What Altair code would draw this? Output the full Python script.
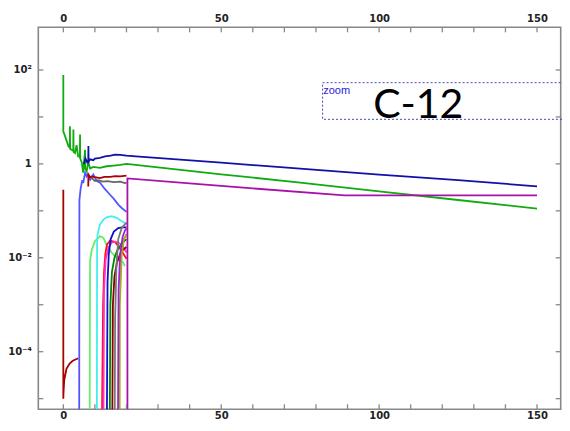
import altair as alt
import pandas as pd

# ---------------- axis ticks / labels ----------------
X_TICKS = [0, 10, 20, 30, 40, 50, 60, 70, 80, 90, 100, 110, 120, 130, 140, 150]
X_LABELS = [0, 50, 100, 150]
Y_TICKS = [1e-5, 1e-4, 1e-3, 1e-2, 1e-1, 1, 10, 100]
Y_LABELS = [100, 1, 0.01, 0.0001]

# ---------------- series (x, y) ----------------
LGREEN_X = [8.3, 8.4, 8.47, 9.0, 10.0, 11.6, 12.7, 13.7, 15.3, 17.0, 19.0, 19.5]
LGREEN_Y = [1e-7, 1e-4, 0.0085, 0.0149, 0.0224, 0.0288, 0.0264, 0.019, 0.0129, 0.0098, 0.0079, 0.0066]

CYAN_X = [10.6, 10.7, 10.8, 11.1, 11.6, 12.7, 13.7, 15.3, 16.9, 18.5, 20.0]
CYAN_Y = [1e-7, 0.019, 0.03, 0.037, 0.051, 0.065, 0.073, 0.077, 0.071, 0.06, 0.053]

RED_X = [12.0, 12.6, 12.9, 13.3, 13.8, 14.8, 16.3, 17.3, 18.5, 20.0]
RED_Y = [1e-7, 1e-3, 0.005, 0.012, 0.019, 0.023, 0.022, 0.018, 0.014, 0.0095]

PINK_X = [12.6, 12.9, 13.4, 14.2, 15.3, 16.5, 18.0, 19.2, 20.0]
PINK_Y = [1e-7, 0.002, 0.009, 0.016, 0.021, 0.022, 0.02, 0.016, 0.013]

BLUE2_X = [13.7, 14.0, 14.4, 15.0, 16.0, 17.4, 19.0, 20.0]
BLUE2_Y = [1e-7, 0.003, 0.012, 0.025, 0.036, 0.043, 0.045, 0.044]

DGREEN_X = [14.6, 14.9, 15.4, 16.2, 17.2, 18.5, 20.0]
DGREEN_Y = [1e-7, 1e-3, 0.005, 0.01, 0.015, 0.02, 0.025]

DRED2_X = [15.4, 15.7, 16.2, 17.0, 18.0, 19.0, 20.0]
DRED2_Y = [1e-7, 1e-3, 0.004, 0.008, 0.012, 0.015, 0.017]

GRAY2_X = [16.2, 16.4, 16.8, 17.4, 18.5, 20.0]
GRAY2_Y = [1e-7, 5e-4, 0.006, 0.025, 0.043, 0.056]

OLIVE_X = [17.8, 17.9, 18.5, 19.2, 20.0]
OLIVE_Y = [1e-7, 1e-3, 0.012, 0.025, 0.032]

PURPLE_X = [17.2, 17.5, 18.0, 18.8, 19.5, 20.0]
PURPLE_Y = [1e-7, 2e-3, 0.012, 0.028, 0.038, 0.042]

DREDLOW_X = [0.0, 0.0, 0.05, 0.3, 1.0, 2.0, 3.0, 4.2, 4.7]
DREDLOW_Y = [0.28, 1.0e-5, 1.3e-5, 2.5e-5, 4.3e-5, 5.6e-5, 6.4e-5, 7.0e-5, 7.2e-5]

PERI_X = [5.0, 5.1, 5.5, 6.0, 6.3, 6.9, 7.4, 7.8, 8.5, 9.5, 10.6, 11.6, 13.0, 14.8, 16.0, 17.4, 18.5, 20.0]
PERI_Y = [1e-7, 0.17, 0.3, 0.45, 0.39, 0.65, 0.54, 0.6, 0.46, 0.59, 0.43, 0.4, 0.3, 0.22, 0.18, 0.136, 0.115, 0.095]

GRAY_X = [9.0, 10.0, 11.0, 12.5, 14.0, 16.0, 18.0, 19.5, 20.0]
GRAY_Y = [0.5, 0.43, 0.45, 0.42, 0.43, 0.41, 0.42, 0.39, 0.4]

DREDUP_X = [7.9, 7.95, 8.5, 9.0, 10.0, 11.6, 13.0, 14.8, 16.5, 18.0, 20.0]
DREDUP_Y = [0.33, 0.59, 0.52, 0.54, 0.52, 0.5, 0.53, 0.53, 0.55, 0.54, 0.56]

GREEN_X = [0.0, 0.0, 0.55, 1.6, 2.05, 2.1, 2.15, 2.6, 3.15, 3.2, 3.25, 3.7, 4.2, 4.7, 5.25, 5.3, 5.35,
           5.8, 6.3, 6.9, 6.95, 7.4, 7.9, 8.5, 9.5, 11.6, 13.7, 16.0, 18.0, 20.0,
           30.0, 50.0, 75.0, 100.0, 125.0, 150.0]
GREEN_Y = [78.0, 4.9, 3.9, 2.4, 2.2, 6.3, 2.1, 2.0, 1.9, 5.4, 1.8, 1.7, 2.5, 1.45, 1.4, 4.2, 1.3,
           1.1, 0.65, 2.0, 0.8, 0.7, 1.1, 0.8, 0.86, 0.82, 0.89, 0.92, 0.95, 1.0,
           0.845, 0.60, 0.40, 0.26, 0.17, 0.112]

BLUE_X = [6.5, 7.0, 7.5, 7.9, 7.95, 8.0, 8.5, 9.5, 10.0, 11.6, 13.2, 15.0, 16.4, 18.0, 20.0, 23.0,
          50.0, 75.0, 100.0, 125.0, 150.0]
BLUE_Y = [1.0, 1.3, 1.1, 1.2, 2.4, 1.1, 1.25, 1.2, 1.3, 1.35, 1.45, 1.5, 1.58, 1.55, 1.5, 1.45,
          1.06, 0.79, 0.59, 0.45, 0.333]

MAGENTA_X = [20.3, 20.3, 40.0, 60.0, 89.0, 120.0, 150.0]
MAGENTA_Y = [1e-7, 0.49, 0.385, 0.30, 0.214, 0.214, 0.214]

SERIES = [
    ("a_lgreen", "#66ee66", LGREEN_X, LGREEN_Y),
    ("b_cyan", "#44eeee", CYAN_X, CYAN_Y),
    ("c_red", "#ff1111", RED_X, RED_Y),
    ("d_pink", "#ff33cc", PINK_X, PINK_Y),
    ("e_blue2", "#1010cc", BLUE2_X, BLUE2_Y),
    ("f_dgreen", "#008800", DGREEN_X, DGREEN_Y),
    ("g_dred2", "#880000", DRED2_X, DRED2_Y),
    ("h_gray2", "#777777", GRAY2_X, GRAY2_Y),
    ("i_olive", "#aaaa11", OLIVE_X, OLIVE_Y),
    ("j_purple", "#9922dd", PURPLE_X, PURPLE_Y),
    ("k_dredlow", "#aa0000", DREDLOW_X, DREDLOW_Y),
    ("l_peri", "#5555ff", PERI_X, PERI_Y),
    ("m_gray", "#666666", GRAY_X, GRAY_Y),
    ("n_dredup", "#aa0000", DREDUP_X, DREDUP_Y),
    ("o_green", "#11aa11", GREEN_X, GREEN_Y),
    ("p_blue", "#1111aa", BLUE_X, BLUE_Y),
    ("q_magenta", "#aa11aa", MAGENTA_X, MAGENTA_Y),
]

rows = []
for name, color, xs, ys in SERIES:
    for i, (xv, yv) in enumerate(zip(xs, ys)):
        rows.append({"s": name, "i": i, "x": xv, "y": yv})
df = pd.DataFrame(rows)

W, H = 522.4, 382
xscale = alt.Scale(domain=[-7.92, 157.5], nice=False, zero=False)
yscale = alt.Scale(type="log", domain=[5.93e-6, 811], nice=False)

lab = dict(labelFont="DejaVu Sans", labelFontWeight="bold", labelFontSize=10,
           labelColor="#222222", ticks=False, domain=False, grid=False, title="")

lines = alt.Chart(df).mark_line(strokeWidth=1.8, clip=True).encode(
    x=alt.X("x:Q", scale=xscale, axis=None),
    y=alt.Y("y:Q", scale=yscale, axis=None),
    color=alt.Color("s:N", scale=alt.Scale(domain=[s[0] for s in SERIES], range=[s[1] for s in SERIES]), legend=None),
    order=alt.Order("i:Q"),
)

xt = pd.DataFrame({"t": X_TICKS})
yt = pd.DataFrame({"v": Y_TICKS})
tick_style = dict(color="#888888", strokeWidth=1.3)

bottom = alt.Chart(xt).mark_rule(**tick_style).encode(
    x=alt.X("t:Q", scale=xscale, axis=alt.Axis(orient="bottom", values=X_LABELS, labelPadding=1, **lab)),
    y=alt.value(H - 5), y2=alt.value(H))
top = alt.Chart(xt).mark_rule(**tick_style).encode(
    x=alt.X("t:Q", scale=xscale, axis=alt.Axis(orient="top", values=X_LABELS, labelPadding=3.5, **lab)),
    y=alt.value(0), y2=alt.value(5))

ylabel_expr = ("datum.value > 10 ? '10²' : datum.value > 0.1 ? '1' : "
               "datum.value > 0.001 ? '10⁻²' : '10⁻⁴'")
left = alt.Chart(yt).mark_rule(**tick_style).encode(
    y=alt.Y("v:Q", scale=yscale, axis=alt.Axis(orient="left", values=Y_LABELS, labelExpr=ylabel_expr,
                                              labelPadding=7, **lab)),
    x=alt.value(0), x2=alt.value(5))
right = alt.Chart(yt).mark_rule(**tick_style).encode(
    y=alt.Y("v:Q", scale=yscale, axis=alt.Axis(orient="right", values=Y_LABELS, labelExpr=ylabel_expr,
                                              labelPadding=4, **lab)),
    x=alt.value(W - 5), x2=alt.value(W))

box_df = pd.DataFrame({"x1": [82.1], "x2": [175.0], "y1": [53.6], "y2": [8.9]})
box = alt.Chart(box_df).mark_rect(fillOpacity=0, stroke="#4444bb", strokeWidth=1,
                                  strokeDash=[2, 2], clip=False).encode(
    x=alt.X("x1:Q", scale=xscale, axis=None), x2="x2:Q",
    y=alt.Y("y1:Q", scale=yscale, axis=None), y2="y2:Q")

zoom_df = pd.DataFrame({"x": [82.3], "y": [30.8], "t": ["zoom"]})
zoom_txt = alt.Chart(zoom_df).mark_text(align="left", baseline="alphabetic", font="Liberation Sans",
                                        fontSize=11, color="#2222dd").encode(
    x=alt.X("x:Q", scale=xscale, axis=None), y=alt.Y("y:Q", scale=yscale, axis=None), text="t:N")

title_df = pd.DataFrame({"x": [112.4], "y": [9.5], "t": ["C-12"]})
title_txt = alt.Chart(title_df).mark_text(align="center", baseline="alphabetic", font="Lato",
                                          fontSize=41, color="#000000").encode(
    x=alt.X("x:Q", scale=xscale, axis=None), y=alt.Y("y:Q", scale=yscale, axis=None), text="t:N")

chart = alt.layer(lines, bottom, top, left, right, box, zoom_txt, title_txt).resolve_axis(
    x="independent", y="independent"
).properties(
    width=W, height=H,
    autosize=alt.AutoSizeParams(type="none"),
    padding={"left": 30.3, "top": 19.3, "right": 1.3, "bottom": 13.7},
).configure_view(stroke="#888888", strokeWidth=1.6)

chart.save("out.html", embed_options={"renderer": "svg", "actions": False})
